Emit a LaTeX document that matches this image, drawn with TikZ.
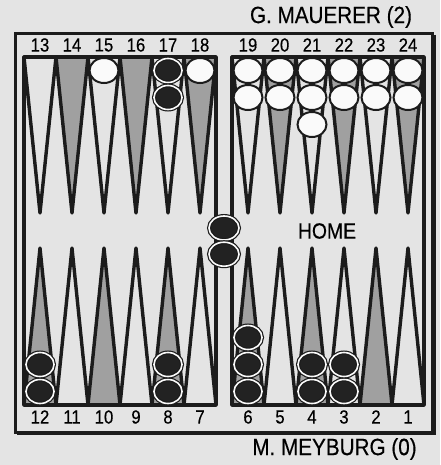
\documentclass[tikz,border=0pt]{standalone}
\usepackage{fontspec}
\setmainfont[FakeStretch=0.88, FakeBold=0.4]{Liberation Sans}
\usepackage{tikz}
\usetikzlibrary{positioning, shapes.geometric}
\definecolor{paper}{RGB}{228,228,228}
\definecolor{ink}{RGB}{28,28,28}
\definecolor{stipple}{RGB}{160,160,160}
\definecolor{chkwhite}{RGB}{250,250,250}
\definecolor{chkblack}{RGB}{34,34,34}
\tikzset{
  boardframe/.style = {draw=ink, line width=3pt},
  ptedge/.style = {draw=ink, line width=3.4pt, line join=round},
  plainpt/.style = {ptedge, fill=paper},
  dotpt/.style = {ptedge, fill=stipple},
  whitechk/.style = {ellipse, draw=ink, line width=2pt, fill=chkwhite,
                     inner sep=0pt, minimum width=29pt, minimum height=25pt},
  blackchk/.style = {ellipse, draw=ink, line width=1.2pt, double=chkwhite,
                     double distance=1.6pt, fill=chkblack, inner sep=0pt,
                     minimum width=28pt, minimum height=24pt},
  ptnum/.style = {font=\fontsize{19}{19}\selectfont, inner sep=0pt},
  player/.style = {font=\fontsize{23.5}{24}\selectfont, inner sep=0pt}
}

\begin{document}
\begin{tikzpicture}[x=1pt, y=-1pt]
\useasboundingbox (0,0) rectangle (440,465);
\fill[paper] (0,0) rectangle (440,465);
\draw[boardframe] (15.5,33.5) rectangle (432.5,432);
\draw[boardframe] (434,35) |- (17,433.5);

\foreach \x in {24,88,152,232,296,360} {
  \draw[plainpt] (\x,57) -- (\x+16,213) -- (\x+32,57) -- cycle;
  \draw[dotpt] (\x,405) -- (\x+16,248) -- (\x+32,405) -- cycle;
}
\foreach \x in {56,120,184,264,328,392} {
  \draw[dotpt] (\x,57) -- (\x+16,213) -- (\x+32,57) -- cycle;
  \draw[plainpt] (\x,405) -- (\x+16,248) -- (\x+32,405) -- cycle;
}
\draw[ptedge] (24,57) rectangle (216,405);
\draw[ptedge] (232,57) rectangle (424,405);

\foreach \i [evaluate=\i as \na using int(13+\i),
             evaluate=\i as \nb using int(19+\i),
             evaluate=\i as \nc using int(12-\i),
             evaluate=\i as \nd using int(6-\i)] in {0,...,5} {
  \node[ptnum] (n\na) at (40+32*\i,45) {\na};
  \node[ptnum] (n\nb) at (248+32*\i,45) {\nb};
  \node[ptnum] (n\nc) at (40+32*\i,417) {\nc};
  \node[ptnum] (n\nd) at (248+32*\i,417) {\nd};
}

\foreach \x/\n/\c in {104/15/1, 200/18/1, 248/19/2, 280/20/2,
                      312/21/3, 344/22/2, 376/23/2, 408/24/2}
  \foreach \k in {1,...,\c}
    \node[whitechk] (w\n-\k) at (\x,43.5+27*\k) {};
\foreach \k in {1,2}
  \node[blackchk] (b17-\k) at (168,43.5+27*\k) {};
\foreach \x/\n/\c in {40/12/2, 168/8/2, 248/6/3, 312/4/2, 344/3/2}
  \foreach \k in {1,...,\c}
    \node[blackchk] (b\n-\k) at (\x,418.5-27*\k) {};

\node[blackchk, minimum width=30pt] (bar1) at (224,228) {};
\node[blackchk, minimum width=30pt, below=1pt of bar1] (bar2) {};

\node[font=\fontsize{22}{22}\selectfont, inner sep=0pt] (home) at (327,231) {HOME};
\node[player] (mauerer) at (331,17) {G. MAUERER (2)};
\node[player] (meyburg) at (334.5,449) {M. MEYBURG (0)};
\end{tikzpicture}
\end{document}
